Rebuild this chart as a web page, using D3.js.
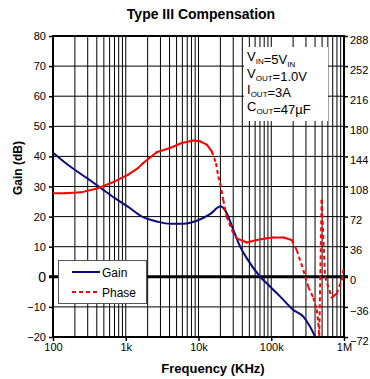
<!DOCTYPE html>
<html lang="en">
<head>
<meta charset="UTF-8">
<title>Type III Compensation</title>
<style>
    * {
        margin: 0;
        padding: 0;
    }

    html,
    body {
        overflow: hidden;
        background: #fff;
    }

    text {
        font-family: 'Liberation Sans', Arial, sans-serif;
    }
</style>
</head>
<body>
<div id="chart"></div>
<script src="https://cdn.jsdelivr.net/npm/d3@7"></script>
<script>
    // gain curve (Hz, dB)
    const gainFreq = [100, 160, 300, 420, 700, 1070, 1740, 2660, 4060, 6180, 9450, 14400, 20200, 24400,
        30100, 37200, 46000, 70000, 96000, 132000, 201000, 276000, 341000, 399000]
    const gainDb = [41.2, 37.2, 32.6, 30.1, 26.2, 23.3, 19.8, 18.4, 17.6, 17.6, 18.6, 20.8, 23.4, 21.2,
        15.6, 10.1, 6.2, 0.1, -3.2, -6.5, -11.0, -13.2, -16.5, -19.8]

    // phase curve (Hz, degrees)
    const phaseFreq = [100, 145, 243, 415, 705, 1070, 1470, 1740, 2660, 4060, 5880, 8490, 10500, 13000,
        15200, 17400, 18700, 19800, 21900, 24400, 28600, 33500, 46000, 63100, 86500, 107000, 147000,
        191000, 224000, 276000, 323000, 378000, 421000, 443000, 457000, 493000, 548000, 678000, 794000,
        930000, 1000000]
    const phaseDeg = [100, 100, 101, 106, 114, 122, 130, 136, 149, 154, 160, 163, 162, 158,
        150, 136, 120, 112, 92, 72, 56, 46, 41, 44, 46, 47, 47,
        44, 32, 8, -12, -25, -39, -55, -71, 92, 0, -25, -20,
        -4, 13]

    const gainTicks = [-20, -10, 0, 10, 20, 30, 40, 50, 60, 70, 80]
    const phaseTicks = [-72, -36, 0, 36, 72, 108, 144, 180, 216, 252, 288]
    const freqTicks = [100, 1000, 10000, 100000, 1000000]
    const freqLabels = ['100', '1k', '10k', '100k', '1M']

    const notes = [
        [['V', 0], ['IN', 1], ['=5V', 0], ['IN', 1]],
        [['V', 0], ['OUT', 1], ['=1.0V', 0]],
        [['I', 0], ['OUT', 1], ['=3A', 0]],
        [['C', 0], ['OUT', 1], ['=47µF', 0]]
    ]

    function drawChart() {
        const width = 370
        const height = 379
        const left = 53, right = 344, top = 36, bottom = 337

        const svg = d3.select('#chart')
            .append('svg')
            .attr('width', width)
            .attr('height', height)
            .style('background', '#fff')

        const x = d3.scaleLog().domain([100, 1e6]).range([left, right])
        const yGain = d3.scaleLinear().domain([-20, 80]).range([bottom, top])
        const yPhase = d3.scaleLinear().domain([-72, 288]).range([bottom, top])

        svg.append('clipPath').attr('id', 'clip')
            .append('rect')
            .attr('x', left).attr('y', top)
            .attr('width', right - left).attr('height', bottom - top)

        // grid
        const minor = []
        for (let d = 100; d < 1e6; d *= 10) {
            for (let k = 2; k <= 10; k++) minor.push(d * k)
        }
        svg.append('g').selectAll('line')
            .data(minor.filter(v => v < 1e6))
            .join('line')
            .attr('x1', d => x(d)).attr('x2', d => x(d))
            .attr('y1', top).attr('y2', bottom)
            .attr('stroke', '#000').attr('stroke-width', 1)

        svg.append('g').selectAll('line')
            .data(gainTicks.filter(v => v !== -20 && v !== 80 && v !== 0))
            .join('line')
            .attr('x1', left).attr('x2', right)
            .attr('y1', d => yGain(d)).attr('y2', d => yGain(d))
            .attr('stroke', '#000').attr('stroke-width', 1)

        // note box
        svg.append('rect')
            .attr('x', 244).attr('y', 47)
            .attr('width', 84).attr('height', 74)
            .attr('fill', '#fff')

        const noteText = svg.append('g')
        notes.forEach((line, i) => {
            const t = noteText.append('text')
                .attr('x', 247)
                .attr('y', 61 + i * 16.5)
                .attr('font-size', 13)
                .attr('fill', '#000')
            line.forEach(([s, sub]) => {
                t.append('tspan')
                    .attr('font-size', sub ? 8 : 13)
                    .attr('dy', sub ? 3 : 0)
                    .text(s)
                if (sub) t.append('tspan').attr('dy', -3).text('')
            })
        })

        // axes
        const axL = svg.append('g')
            .attr('transform', `translate(${left},0)`)
            .call(d3.axisLeft(yGain).tickValues(gainTicks).tickSize(4).tickPadding(3))
        axL.selectAll('text').attr('font-size', d => d === 0 ? 14 : 11)

        const axR = svg.append('g')
            .attr('transform', `translate(${right},0)`)
            .call(d3.axisRight(yPhase).tickValues(phaseTicks).tickSize(4).tickPadding(2))
        axR.selectAll('text').attr('font-size', 11).attr('dy', '0.65em')

        const axB = svg.append('g')
            .attr('transform', `translate(0,${bottom})`)
            .call(d3.axisBottom(x).tickValues(freqTicks).tickFormat((d, i) => freqLabels[i]).tickSize(4).tickPadding(2))
        axB.selectAll('text').attr('font-size', 11)

        svg.selectAll('.domain').remove()
        svg.selectAll('.tick line').attr('stroke', '#000').attr('stroke-width', 1.5)
        svg.selectAll('.tick text').attr('fill', '#000').attr('font-family', "'Liberation Sans', Arial, sans-serif")

        // frame and zero line
        svg.append('rect')
            .attr('x', left).attr('y', top)
            .attr('width', right - left).attr('height', bottom - top)
            .attr('fill', 'none').attr('stroke', '#000').attr('stroke-width', 2)

        svg.append('line')
            .attr('x1', left - 4).attr('x2', right + 4)
            .attr('y1', yGain(0)).attr('y2', yGain(0))
            .attr('stroke', '#000').attr('stroke-width', 3)

        // gain
        const gainPts = gainFreq.map((f, i) => [x(f), yGain(gainDb[i])])
        svg.append('path')
            .attr('clip-path', 'url(#clip)')
            .attr('d', d3.line().curve(d3.curveMonotoneX)(gainPts))
            .attr('fill', 'none')
            .attr('stroke', '#0a0a80')
            .attr('stroke-width', 2)

        // phase, dashed where steep
        const phasePts = phaseFreq.map((f, i) => [x(f), yPhase(phaseDeg[i])])
        const steep = s => Math.abs(s[1][1] - s[0][1]) > 1.5 * Math.abs(s[1][0] - s[0][0])
        svg.append('g')
            .attr('clip-path', 'url(#clip)')
            .selectAll('path')
            .data(d3.pairs(phasePts))
            .join('path')
            .attr('d', s => d3.line()(s))
            .attr('fill', 'none')
            .attr('stroke', '#ff0000')
            .attr('stroke-width', 2)
            .attr('stroke-linecap', s => steep(s) ? 'butt' : 'round')
            .attr('stroke-dasharray', s => steep(s) ? '4,3' : null)

        // legend
        const lg = svg.append('g')
        lg.append('rect')
            .attr('x', 58.5).attr('y', 260.5)
            .attr('width', 88).attr('height', 43)
            .attr('fill', '#fff').attr('stroke', '#555').attr('stroke-width', 1)
        lg.append('line')
            .attr('x1', 72).attr('x2', 100).attr('y1', 272).attr('y2', 272)
            .attr('stroke', '#0a0a80').attr('stroke-width', 2)
        lg.append('line')
            .attr('x1', 72).attr('x2', 100).attr('y1', 292).attr('y2', 292)
            .attr('stroke', '#ff0000').attr('stroke-width', 2).attr('stroke-dasharray', '4,3')
        lg.append('text').attr('x', 102).attr('y', 277).attr('font-size', 12).text('Gain')
        lg.append('text').attr('x', 102).attr('y', 297).attr('font-size', 12).text('Phase')

        // titles
        svg.append('text')
            .attr('x', 201).attr('y', 19)
            .attr('text-anchor', 'middle')
            .attr('font-size', 14).attr('font-weight', 'bold')
            .text('Type III Compensation')

        svg.append('text')
            .attr('x', 213).attr('y', 373)
            .attr('text-anchor', 'middle')
            .attr('font-size', 13).attr('font-weight', 'bold')
            .text('Frequency (KHz)')

        svg.append('text')
            .attr('transform', 'translate(22,168) rotate(-90)')
            .attr('text-anchor', 'middle')
            .attr('font-size', 12).attr('font-weight', 'bold')
            .text('Gain (dB)')
    }

    drawChart()
</script>
</body>
</html>
